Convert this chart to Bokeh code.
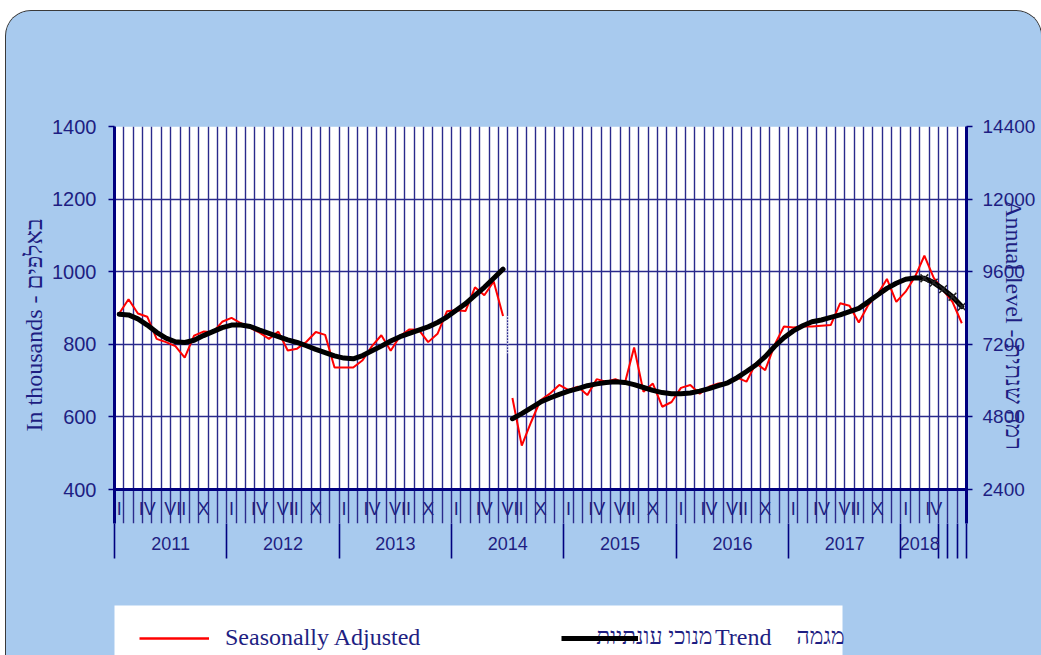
import numpy as np
from bokeh.plotting import figure
from bokeh.layouts import column
from bokeh.models import (Range1d, LinearAxis, FixedTicker, Span, Legend, LegendItem, Label)
from bokeh.core.properties import value
from bokeh.embed import file_html
from bokeh.resources import INLINE

# ---------------- data ----------------
years = ["2011", "2012", "2013", "2014", "2015", "2016", "2017", "2018"]
roman_labels = ["I", "IV", "VII", "X"]
roman_month = [0, 3, 6, 9]
# category group boundaries (month index) of the two-level axis
group_bounds = [0, 12, 24, 36, 48, 60, 72, 84, 88, 89, 90, 91]

seasonally_adjusted = [
    885, 924, 885, 876, 815, 806, 795, 763, 824, 835, 833, 862,      # 2011
    873, 858, 845, 832, 815, 835, 783, 788, 807, 834, 826, 736,      # 2012
    736, 736, 756, 795, 825, 782, 823, 841, 840, 806, 829, 891,      # 2013
    894, 892, 957, 935, 973, 878, 652, 521, 586, 646, 664, 688,      # 2014
    674, 683, 660, 704, 697, 704, 692, 791, 669, 692, 628, 641,      # 2015
    680, 688, 664, 683, 692, 694, 708, 697, 748, 729, 798, 849,      # 2016
    846, 849, 849, 851, 853, 913, 906, 860, 908, 938, 980, 917,      # 2017
    945, 986, 1044, 983, 949, 917, 858,                              # 2018
]
trend = [
    883, 881, 870, 853, 833, 817, 807, 805, 811, 824, 835, 846,
    853, 853, 849, 839, 830, 821, 812, 805, 796, 786, 777, 768,
    762, 760, 769, 782, 795, 809, 821, 830, 839, 848, 860, 875,
    894, 912, 935, 957, 982, 1007, 595, 609, 625, 641, 652, 662,
    671, 678, 686, 691, 695, 697, 695, 689, 681, 673, 667, 664,
    664, 666, 671, 678, 686, 694, 708, 725, 743, 766, 794, 818,
    837, 851, 862, 867, 874, 881, 890, 899, 917, 936, 954, 968,
    979, 983, 982, 970, 952, 931, 904,
]
series_break = 42          # new series starts at 2014 VII
n_provisional = 5          # last trend points marked as provisional
break_mark = [877, 772]    # white dotted marker at the series break

left_ticks = [400, 600, 800, 1000, 1200, 1400]
right_ticks = [2400, 4800, 7200, 9600, 12000, 14400]
annual_offset = 200        # annual level = (monthly - 200) * 12
annual_factor = 12

left_title = "In thousands - באלפים"
right_title = "Annual level - רמה שנתית"
legend_sa = "Seasonally Adjusted"
legend_sa_he = "מנוכי עונתיות"
legend_tr = "Trend"
legend_tr_he = "מגמה"

# ---------------- style / geometry ----------------
W = 1035
H1, H2 = 590, 54
F_L, F_R, F_T, F_B = 108, 960, 115, 512
PAGE_X0 = 5                      # page x of the figures' left edge
PX_PER_UNIT = 0.363
BLUE = "#A8CAEE"
NAVY = "#00007F"
GRID = "#2A2A8C"
TEXT = "#1E1E82"
SANS = "Liberation Sans"
SERIF = "Liberation Serif"

n = len(seasonally_adjusted)
x = np.arange(n) + 0.5
y_top = left_ticks[-1]
y_bottom = y_top - (F_B - F_T) / PX_PER_UNIT
plot_floor = left_ticks[0]

p = figure(width=W, height=H1, output_backend="svg", toolbar_location=None,
           x_range=Range1d(0, n), y_range=Range1d(y_bottom, y_top),
           min_border_left=F_L, min_border_right=W - F_R,
           min_border_top=F_T, min_border_bottom=H1 - F_B,
           background_fill_color=BLUE, border_fill_color=BLUE,
           outline_line_color=None)
p.extra_y_ranges = {"annual": Range1d((y_bottom - annual_offset) * annual_factor,
                                      (y_top - annual_offset) * annual_factor)}

# white plotting area
p.quad(left=[0], right=[n], bottom=[plot_floor], top=[y_top],
       fill_color="white", line_color=None, level="image")

# grids
p.xgrid.ticker = FixedTicker(ticks=list(range(0, n + 1)))
p.xgrid.grid_line_color = GRID
p.xgrid.grid_line_width = 1.4
p.ygrid.ticker = FixedTicker(ticks=left_ticks)
p.ygrid.grid_line_color = GRID
p.ygrid.grid_line_width = 1.4
p.add_layout(Span(location=plot_floor, dimension="width", line_color=NAVY, line_width=3))

# left axis
ya = p.yaxis[0]
ya.ticker = FixedTicker(ticks=left_ticks)
ya.axis_line_color = NAVY
ya.axis_line_width = 3
ya.major_tick_out = 6
ya.major_tick_in = 0
ya.major_tick_line_color = NAVY
ya.major_tick_line_width = 1.5
ya.minor_tick_line_color = None
ya.major_label_standoff = 12
ya.major_label_text_font = SANS
ya.major_label_text_font_size = "20px"
ya.major_label_text_color = TEXT
ya.axis_label = left_title
ya.axis_label_text_font = SERIF
ya.axis_label_text_font_size = "24px"
ya.axis_label_text_font_style = "normal"
ya.axis_label_text_color = TEXT
ya.axis_label_standoff = 2

# right axis
ra = LinearAxis(y_range_name="annual", ticker=FixedTicker(ticks=right_ticks))
ra.axis_line_color = NAVY
ra.axis_line_width = 3
ra.major_tick_out = 6
ra.major_tick_in = 0
ra.major_tick_line_color = NAVY
ra.major_tick_line_width = 1.5
ra.minor_tick_line_color = None
ra.major_label_standoff = 10
ra.major_label_text_font = SANS
ra.major_label_text_font_size = "19px"
ra.major_label_text_color = TEXT
ra.axis_label = right_title
ra.axis_label_text_font = SERIF
ra.axis_label_text_font_size = "24px"
ra.axis_label_text_font_style = "normal"
ra.axis_label_text_color = TEXT
ra.axis_label_standoff = -37
p.add_layout(ra, "right")

# bottom axis: years centred on groups, long separators as minor ticks
year_centres = [(group_bounds[k] + group_bounds[k + 1]) / 2 for k in range(len(years))]
xa = p.xaxis[0]
xa.ticker = FixedTicker(ticks=year_centres, minor_ticks=group_bounds)
xa.major_label_overrides = {c: yv for c, yv in zip(year_centres, years)}
xa.axis_line_color = None
xa.major_tick_out = 0
xa.major_tick_in = 0
xa.minor_tick_in = 0
xa.minor_tick_out = 35
xa.minor_tick_line_color = NAVY
xa.minor_tick_line_width = 1.6
xa.major_label_standoff = -22
xa.major_label_text_font = SANS
xa.major_label_text_font_size = "18px"
xa.major_label_text_color = TEXT

# roman month labels (inside the label strip under the plot)
rx, rt = [], []
for k in range(len(years)):
    for lab, m in zip(roman_labels, roman_month):
        idx = group_bounds[k] + m
        if idx < group_bounds[k + 1]:
            rx.append(idx + 0.5)
            rt.append(lab)
roman_y = plot_floor - 19 / PX_PER_UNIT
p.text(x=rx, y=[roman_y] * len(rx), text=rt, text_align="center", text_baseline="middle",
       text_font=value(SANS), text_font_size="18px", text_color=TEXT)

# series
b = series_break
sa = np.array(seasonally_adjusted, dtype=float)
tr = np.array(trend, dtype=float)
p.line(x[:b], sa[:b], line_color="#FF0000", line_width=2)
p.line(x[b:], sa[b:], line_color="#FF0000", line_width=2)
p.line(x[:b], tr[:b], line_color="black", line_width=5, line_join="round", line_cap="round")
p.line(x[b:], tr[b:], line_color="black", line_width=5, line_join="round", line_cap="round")
p.scatter(x[-n_provisional:], tr[-n_provisional:], marker="x", size=11,
          line_color="#222222", line_width=1.5)
p.segment(x0=[b], y0=[break_mark[0]], x1=[b], y1=[break_mark[1]],
          line_color="white", line_width=2, line_dash="1 2")

# ---------------- legend strip ----------------
# its frame is aligned with the chart's frame, so use page-pixel x coordinates
fx0, fx1 = PAGE_X0 + F_L, PAGE_X0 + F_R
q = figure(width=W, height=H2, output_backend="svg", toolbar_location=None,
           x_range=Range1d(fx0, fx1), y_range=Range1d(0, H2),
           min_border_left=F_L, min_border_right=W - F_R, min_border_top=0, min_border_bottom=0,
           background_fill_color=BLUE, background_fill_alpha=0,
           border_fill_color=BLUE, outline_line_color=None)
q.axis.visible = False
q.grid.visible = False
q.quad(left=[110], right=[841], bottom=[-5], top=[50], fill_color="white", line_color=None)
# legend proxies (no visible data of their own)
l_sa = q.line(x=[np.nan], y=[np.nan], line_color="#FF0000", line_width=2.5)
l_tr = q.line(x=[np.nan], y=[np.nan], line_color="black", line_width=5)
common = dict(orientation="horizontal", glyph_height=26, label_height=26, padding=0, margin=0,
              spacing=0, background_fill_alpha=0, border_line_color=None,
              label_text_font=SERIF, label_text_font_size="24px", label_text_color=TEXT)
q.add_layout(Legend(items=[LegendItem(label=legend_sa, renderers=[l_sa])],
                    location=(138 - fx0, 4), glyph_width=70, label_standoff=16, **common))
q.add_layout(Label(x=711, y=19, text=legend_sa_he, text_align="right", text_baseline="middle",
                   text_font=SERIF, text_font_size="23px", text_color=TEXT))
q.add_layout(Legend(items=[LegendItem(label=legend_tr, renderers=[l_tr])],
                    location=(560 - fx0, 4), glyph_width=77, label_standoff=77, **common))
q.add_layout(Label(x=795, y=19, text=legend_tr_he, text_align="left", text_baseline="middle",
                   text_font=SERIF, text_font_size="23px", text_color=TEXT))

lay = column(p, q, spacing=0)
lay.styles = {"margin-left": "5px", "margin-top": "10px", "background-color": BLUE,
              "border-radius": "26px 26px 0 0", "overflow": "hidden",
              "border": "1px solid #3a3a3a", "border-bottom": "none",
              "box-sizing": "border-box"}

open("out.html", "w").write(file_html(lay, INLINE))
